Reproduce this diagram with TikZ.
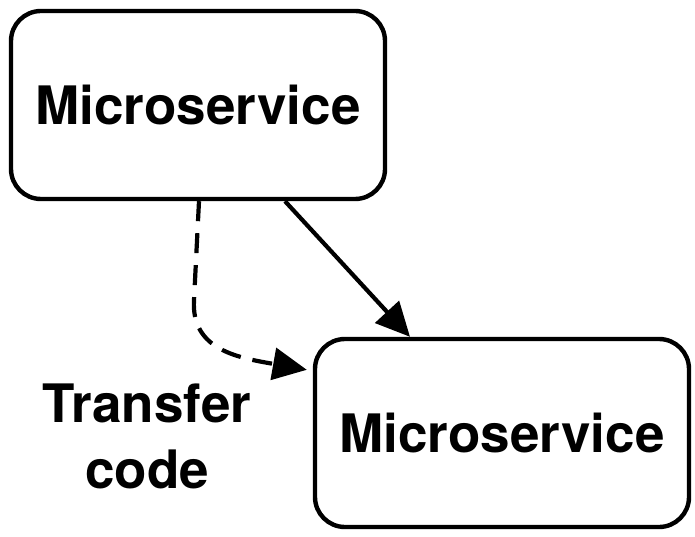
\documentclass[tikz,border=0pt]{standalone}
\usepackage{fontspec}
\setmainfont{TeX Gyre Heros}
\usetikzlibrary{arrows.meta,positioning}

\begin{document}
\begin{tikzpicture}[x=1pt,y=-1pt, every node/.style={font=\fontsize{53}{66}\selectfont\bfseries},
  block/.style={draw, line width=4.4pt, rounded corners=30pt, align=center, minimum width=374pt, minimum height=188pt},
  line/.style={line width=4.2pt, -{Triangle[length=34pt,width=32pt]}}]
  \useasboundingbox (0,0) rectangle (695,537);
  \node[block] (ms1) at (198,105) {Microservice};
  \node[block] (ms2) at (502,433) {Microservice};
  \node[align=center] (xfer) at (147,436) {Transfer\\code};
  \draw[line] ([xshift=87pt]ms1.south) -- ([xshift=-92pt]ms2.north);
  \draw[line, dash pattern=on 20pt off 12pt] ([xshift=1pt]ms1.south) -- ++(-5,99)
    .. controls +(-3,50) and +(-68,-12) .. ([xshift=-6pt,yshift=-33pt]ms2.north west);
\end{tikzpicture}
\end{document}
